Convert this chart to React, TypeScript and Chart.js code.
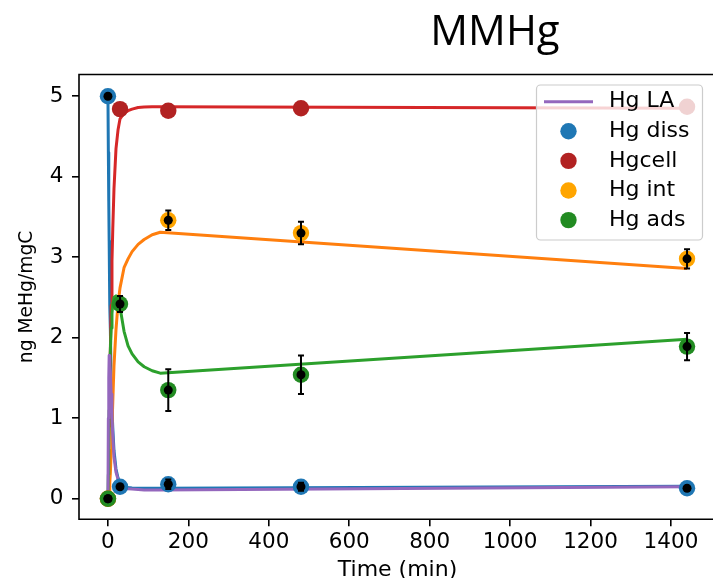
import { useEffect, useRef } from "react";
import { Chart, registerables } from "chart.js";

Chart.register(...registerables);

// Measured concentrations (ng MeHg/mgC) at the sampling times (min)
const sampleTimes = [0, 30, 150, 480, 1440];
const hgDiss = [5.0, 0.15, 0.18, 0.15, 0.13];
const hgDissErr = [0, 0.02, 0.06, 0.05, 0.02];
const hgCell = [0, 4.84, 4.82, 4.85, 4.87];
const hgInt = [0, null, 3.46, 3.3, 2.98];
const hgIntErr = [0, null, 0.12, 0.14, 0.12];
const hgAds = [0, 2.42, 1.35, 1.54, 1.89];
const hgAdsErr = [0, 0.1, 0.26, 0.24, 0.17];

// Fitted model curves
const modelTimes = [0, 1, 2, 3, 4, 5, 6, 8, 10, 12, 15, 20, 25, 30, 40, 50, 60, 75, 90, 110, 130, 1440];
const modelDiss = [5.0, 4.3, 3.7, 3.2, 2.75, 2.4, 2.1, 1.45, 1.12, 0.88, 0.6, 0.37, 0.26, 0.19, 0.15, 0.14, 0.135, 0.13, 0.13, 0.13, 0.13, 0.155];
const modelCell = [0, 0.1, 0.5, 0.9, 1.3, 1.6, 1.85, 2.4, 2.95, 3.35, 3.85, 4.35, 4.58, 4.72, 4.79, 4.82, 4.84, 4.86, 4.865, 4.87, 4.87, 4.85];
const modelInt = [0, 0, 0.01, 0.04, 0.1, 0.2, 0.32, 0.6, 0.9, 1.2, 1.65, 2.1, 2.42, 2.62, 2.87, 2.98, 3.07, 3.16, 3.22, 3.28, 3.31, 2.86];
const modelAds = [0, 0.3, 0.75, 1.1, 1.4, 1.65, 1.85, 2.12, 2.3, 2.42, 2.5, 2.52, 2.48, 2.38, 2.08, 1.9, 1.8, 1.7, 1.64, 1.59, 1.56, 1.98];
const modelLA = [0, 1.0, 1.5, 1.78, 1.74, 1.66, 1.58, 1.3, 1.0, 0.78, 0.52, 0.33, 0.24, 0.18, 0.14, 0.125, 0.12, 0.115, 0.11, 0.11, 0.11, 0.15];

const xTickValues = [0, 200, 400, 600, 800, 1000, 1200, 1400];
const yTickValues = [0, 1, 2, 3, 4, 5];

const legendLabels = ["Hg LA", "Hg diss", "Hgcell", "Hg int", "Hg ads"];
const legendColors = ["#9467bd", "#1f77b4", "#b22222", "#ffa500", "#228b22"];

const toPoints = (xs: number[], ys: (number | null)[]) =>
  xs.map((x, i) => ({ x, y: ys[i] })).filter((p) => p.y !== null) as { x: number; y: number }[];

const errorSeries = [
  { values: hgDiss, errs: hgDissErr },
  { values: hgInt, errs: hgIntErr },
  { values: hgAds, errs: hgAdsErr },
];

const errorBarPlugin = {
  id: "errorBars",
  afterDatasetsDraw(chart: any) {
    const { ctx, scales } = chart;
    const xs = scales.x;
    const ys = scales.y;
    ctx.save();
    ctx.strokeStyle = "#000";
    ctx.lineWidth = 2;
    for (const s of errorSeries) {
      sampleTimes.forEach((t, i) => {
        const v = s.values[i];
        const e = s.errs[i];
        if (v === null || e === null || !e) return;
        const px = xs.getPixelForValue(t);
        const top = ys.getPixelForValue(v + e);
        const bot = ys.getPixelForValue(v - e);
        ctx.beginPath();
        ctx.moveTo(px, top);
        ctx.lineTo(px, bot);
        ctx.moveTo(px - 3, top);
        ctx.lineTo(px + 3, top);
        ctx.moveTo(px - 3, bot);
        ctx.lineTo(px + 3, bot);
        ctx.stroke();
      });
    }
    // axes frame (left, top, bottom)
    const { left, right, top, bottom } = chart.chartArea;
    ctx.lineWidth = 1.6;
    ctx.beginPath();
    ctx.moveTo(right, top);
    ctx.lineTo(left, top);
    ctx.lineTo(left, bottom);
    ctx.lineTo(right, bottom);
    ctx.stroke();
    ctx.restore();
  },
};

const legendTitlePlugin = {
  id: "legendTitle",
  afterDraw(chart: any) {
    const { ctx } = chart;
    ctx.save();
    // legend frame
    const bx = 536.5;
    const by = 85;
    const bw = 166;
    const bh = 155;
    ctx.beginPath();
    ctx.roundRect(bx, by, bw, bh, 4);
    ctx.fillStyle = "rgba(255,255,255,0.8)";
    ctx.fill();
    ctx.lineWidth = 1.2;
    ctx.strokeStyle = "#cccccc";
    ctx.stroke();

    ctx.font = '22px "DejaVu Sans"';
    ctx.textBaseline = "middle";
    ctx.textAlign = "left";
    legendLabels.forEach((label, i) => {
      const cy = 101.7 + i * 29.6;
      if (i === 0) {
        ctx.beginPath();
        ctx.moveTo(544, cy);
        ctx.lineTo(593, cy);
        ctx.strokeStyle = legendColors[i];
        ctx.lineWidth = 3;
        ctx.stroke();
      } else {
        ctx.beginPath();
        ctx.arc(568.5, cy, 8.2, 0, Math.PI * 2);
        ctx.fillStyle = legendColors[i];
        ctx.fill();
      }
      ctx.fillStyle = "#000";
      ctx.fillText(label, 609, cy);
    });

    // title
    ctx.font = '42px "Open Sans"';
    ctx.textAlign = "center";
    ctx.textBaseline = "alphabetic";
    ctx.fillStyle = "#000";
    ctx.fillText("MMHg", 495, 45);
    ctx.restore();
  },
};

export default function App() {
  const canvasRef = useRef<HTMLCanvasElement | null>(null);

  useEffect(() => {
    if (!canvasRef.current) return;
    Chart.defaults.font.family = "'DejaVu Sans'";
    Chart.defaults.color = "#000";

    const lineDs = (label: string, ys: number[], color: string, order: number) => ({
      label,
      data: toPoints(modelTimes, ys),
      showLine: true,
      borderColor: color,
      backgroundColor: color,
      borderWidth: 3,
      pointRadius: 0,
      tension: 0,
      borderJoinStyle: "round" as const,
      order,
    });
    const dotDs = (label: string, ys: (number | null)[], color: string, radius: number, order: number) => ({
      label,
      data: toPoints(sampleTimes, ys),
      showLine: false,
      pointRadius: radius,
      pointBackgroundColor: color,
      pointBorderWidth: 0,
      borderWidth: 0,
      order,
    });

    const chart = new Chart(canvasRef.current, {
      type: "scatter",
      data: {
        datasets: [
          lineDs("Hg diss model", modelDiss, "#1f77b4", 19),
          lineDs("Hgcell model", modelCell, "#d62728", 18),
          lineDs("Hg int model", modelInt, "#ff7f0e", 17),
          lineDs("Hg ads model", modelAds, "#2ca02c", 16),
          lineDs("Hg LA", modelLA, "#9467bd", 15),
          dotDs("Hg diss", hgDiss, "#1f77b4", 8.2, 9),
          dotDs("Hgcell", hgCell, "#b22222", 8.2, 8),
          dotDs("Hg int", hgInt, "#ffa500", 8.2, 7),
          dotDs("Hg ads", hgAds, "#228b22", 8.2, 6),
          dotDs("Hg diss mean", hgDiss, "#000", 4.5, 3),
          dotDs("Hg int mean", hgInt, "#000", 4.5, 2),
          dotDs("Hg ads mean", hgAds, "#000", 4.5, 1),
        ],
      },
      options: {
        responsive: false,
        animation: false,
        events: [],
        layout: { padding: { top: 74.5, right: 24, bottom: 0, left: 0 } },
        plugins: {
          legend: { display: false },
          tooltip: { enabled: false },
          title: { display: false },
        },
        scales: {
          x: {
            type: "linear",
            min: -72,
            max: 1512,
            afterFit: (s: any) => {
              s.height = 80.7;
            },
            afterBuildTicks: (s: any) => {
              s.ticks = xTickValues.map((v) => ({ value: v }));
            },
            ticks: {
              font: { size: 21.5 },
              color: "#000",
              padding: 3,
              maxRotation: 0,
              autoSkip: false,
              callback: (v: any) => String(v),
            },
            grid: { drawOnChartArea: false, drawTicks: true, tickLength: 7, color: "#000", lineWidth: 1.6 },
            border: { display: false },
            title: {
              display: true,
              text: "Time (min)",
              font: { size: 22 },
              color: "#000",
              padding: { top: 0, bottom: 16.8 },
            },
          },
          y: {
            type: "linear",
            min: -0.255,
            max: 5.27,
            afterFit: (s: any) => {
              s.width = 79;
            },
            afterBuildTicks: (s: any) => {
              s.ticks = yTickValues.map((v) => ({ value: v }));
            },
            ticks: {
              font: { size: 21.5 },
              color: "#000",
              padding: 8.5,
              autoSkip: false,
              callback: (v: any) => String(v),
            },
            grid: { drawOnChartArea: false, drawTicks: true, tickLength: 7, color: "#000", lineWidth: 1.6 },
            border: { display: false },
            title: {
              display: true,
              text: "ng MeHg/mgC",
              font: { size: 18.7 },
              color: "#000",
              padding: { top: 16.3, bottom: 0 },
            },
          },
        },
      },
      plugins: [errorBarPlugin, legendTitlePlugin],
    });
    return () => chart.destroy();
  }, []);

  return (
    <div
      style={{
        position: "absolute",
        left: 0,
        top: 0,
        width: 713,
        height: 578,
        overflow: "hidden",
        background: "#fff",
      }}
    >
      <canvas ref={canvasRef} width={740} height={600} style={{ display: "block" }} />
    </div>
  );
}
